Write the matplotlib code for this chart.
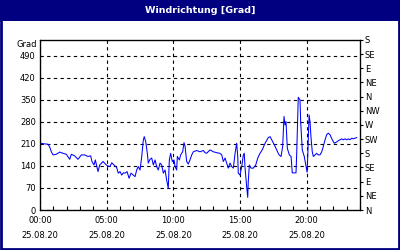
import matplotlib
matplotlib.use("Agg")
import matplotlib.pyplot as plt
from matplotlib.patches import Rectangle
from matplotlib.ticker import MultipleLocator, FixedLocator

title = "Windrichtung [Grad]"
y_unit = "Grad"
hours = [0.05, 0.35, 0.6, 0.73, 0.85, 0.98, 1.22, 1.48, 1.73, 1.97, 2.23, 2.35, 2.6, 2.85,
         3.1, 3.35, 3.6, 3.8, 3.9, 4.05, 4.15, 4.35, 4.48, 4.73, 4.97, 5.08, 5.25, 5.38,
         5.63, 5.75, 5.87, 6.0, 6.13, 6.25, 6.38, 6.53, 6.68, 6.83, 7.0, 7.13, 7.25, 7.37,
         7.5, 7.63, 7.75, 7.82, 7.93, 8.05, 8.12, 8.25, 8.38, 8.5, 8.63, 8.75, 8.87, 9.0,
         9.13, 9.25, 9.38, 9.5, 9.62, 9.7, 9.8, 9.92, 10.05, 10.13, 10.25, 10.3, 10.45,
         10.55, 10.7, 10.8, 10.88, 11.0, 11.12, 11.25, 11.38, 11.5, 11.75, 12.0, 12.25,
         12.38, 12.5, 12.75, 13.0, 13.25, 13.5, 13.63, 13.75, 13.88, 14.0, 14.12, 14.25,
         14.38, 14.5, 14.63, 14.75, 14.83, 14.87, 15.0, 15.13, 15.25, 15.32, 15.38, 15.5,
         15.58, 15.62, 15.7, 15.83, 16.0, 16.18, 16.33, 16.5, 16.67, 16.88, 17.12, 17.25,
         17.38, 17.57, 17.75, 17.93, 18.08, 18.2, 18.3, 18.38, 18.45, 18.55, 18.7, 18.83,
         18.92, 19.2, 19.25, 19.33, 19.37, 19.5, 19.55, 19.67, 19.82, 19.95, 20.03, 20.08,
         20.18, 20.25, 20.33, 20.42, 20.5, 20.63, 20.75, 20.87, 21.0, 21.13, 21.25, 21.38,
         21.5, 21.62, 21.75, 21.92, 22.07, 22.25, 22.37, 22.5, 22.63, 22.75, 22.88, 23.0,
         23.12, 23.25, 23.38, 23.5, 23.75]
direction = [212, 210, 209, 200, 185, 175, 177, 184, 180, 177, 161, 177, 172, 161,
             175, 175, 170, 172, 154, 143, 159, 122, 143, 154, 143, 140, 138, 150,
             140, 135, 117, 122, 111, 118, 117, 122, 101, 117, 111, 106, 127, 138,
             127, 170, 223, 233, 217, 180, 149, 161, 165, 143, 159, 138, 127, 149,
             143, 117, 127, 95, 69, 159, 180, 154, 159, 138, 127, 170, 159,
             175, 185, 214, 202, 154, 146, 159, 175, 185, 189, 185, 189,
             182, 180, 191, 185, 182, 180, 175, 154, 165, 149, 133, 149,
             138, 133, 180, 212, 170, 117, 111, 138, 175, 180, 133, 74,
             40, 90, 143, 133, 133, 143, 165, 180, 191, 212, 230, 233,
             223, 207, 191, 175, 170, 202, 297, 270, 281, 196, 175, 170,
             118, 118, 175, 292, 358, 350, 281, 191, 170, 138, 120, 170,
             302, 281, 228, 185, 170, 175, 180, 175, 175, 185, 202, 223,
             239, 244, 239, 223, 212, 216, 220, 223, 226, 223, 226, 223,
             226, 223, 228, 226, 230]
left_ticks = [0, 70, 140, 210, 280, 350, 420, 490]
compass_labels = ["N", "NE", "E", "SE", "S", "SW", "W", "NW", "N", "NE", "E", "SE", "S"]
x_ticks = [0, 5, 10, 15, 20]
x_labels = ["00:00\n25.08.20", "05:00\n25.08.20", "10:00\n25.08.20",
            "15:00\n25.08.20", "20:00\n25.08.20"]

navy = "#000080"
fig = plt.figure(figsize=(4, 2.5), dpi=100)
fig.patch.set_facecolor("white")
# title band and frame
fig.patches.append(Rectangle((0, 0.918), 1, 0.082, transform=fig.transFigure,
                             facecolor=navy, edgecolor="none", zorder=0))
fig.patches.append(Rectangle((0.0025, 0.004), 0.995, 0.99, transform=fig.transFigure,
                             facecolor="none", edgecolor=navy, linewidth=2, zorder=0))
fig.text(0.5, 0.958, title, color="white", fontsize=6.8, fontweight="bold",
         ha="center", va="center", family="DejaVu Sans")

ax = fig.add_axes([0.1, 0.16, 0.8, 0.68])
ax.plot(hours, direction, color="#0000ff", linewidth=0.75)
ax.set_xlim(0, 24)
ax.set_ylim(0, 540)
ax.set_yticks(left_ticks)
ax.tick_params(axis="y", which="major", length=0, labelsize=6, pad=3)
ax.set_xticks(x_ticks)
ax.set_xticklabels(x_labels, fontsize=6, linespacing=1.9)
ax.xaxis.set_minor_locator(MultipleLocator(1))
ax.tick_params(axis="x", which="major", length=0, pad=4)
ax.tick_params(axis="x", which="minor", direction="in", length=3, width=0.8)
ax.grid(True, which="major", color="black", linestyle=(0, (3, 3)), linewidth=0.8)
for s in ax.spines.values():
    s.set_linewidth(0.9)
ax.text(-0.01, 0.975, y_unit, transform=ax.transAxes, ha="right", va="center", fontsize=6)

ax2 = ax.twinx()
ax2.set_ylim(0, 540)
ax2.yaxis.set_major_locator(FixedLocator([45 * i for i in range(len(compass_labels))]))
ax2.set_yticklabels(compass_labels, fontsize=6)
ax2.tick_params(axis="y", length=2.5, width=0.8, pad=1)

fig.savefig("out.png", dpi=100)
